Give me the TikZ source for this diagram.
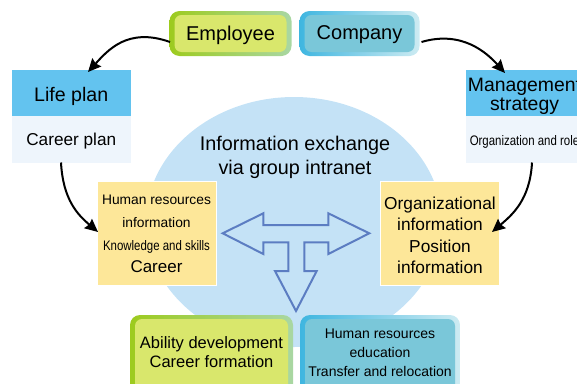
\documentclass[tikz,border=0pt]{standalone}
\usepackage{fontspec}
\setmainfont{Liberation Sans}
\usetikzlibrary{arrows.meta,calc}
\definecolor{empfill}{HTML}{D9E76C}
\definecolor{empL}{HTML}{9DCB1E}
\definecolor{empR}{HTML}{A9D7A3}
\definecolor{compfill}{HTML}{7AC7D9}
\definecolor{compL}{HTML}{3FB6E0}
\definecolor{compR}{HTML}{CDEBF2}
\definecolor{headblue}{HTML}{63C3EF}
\definecolor{pane}{HTML}{EEF5FC}
\definecolor{ellblue}{HTML}{C4E2F6}
\definecolor{yellowc}{HTML}{FDE799}
\definecolor{tblue}{HTML}{5C7DC2}
\tikzset{
  boxbase/.style={inner sep=0pt, outer sep=0pt},
  greenrim/.style={boxbase, rounded corners=10pt, left color=empL, right color=empR},
  bluerim/.style={boxbase, rounded corners=10pt, left color=compL, right color=compR},
  greenin/.style={boxbase, rounded corners=7pt, fill=empfill, align=center},
  bluein/.style={boxbase, rounded corners=7pt, fill=compfill, align=center},
  headbox/.style={boxbase, fill=headblue, anchor=north west, align=center},
  panebox/.style={boxbase, fill=pane, anchor=north west, align=center},
  yelbox/.style={boxbase, fill=yellowc, draw=white, line width=1pt, anchor=north west},
  txt/.style={inner sep=0pt, align=center},
  conn/.style={line width=2pt, -{Stealth[length=13pt,width=12pt,inset=1.5pt]}},
}
\begin{document}
\begin{tikzpicture}[x=1pt,y=-1pt]
\useasboundingbox (0,0) rectangle (577,383);
\clip (0,0) rectangle (577,383);
% central ellipse
\fill[ellblue] (294,222) ellipse [x radius=148, y radius=125];
\node[txt, font=\fontsize{19.8}{24}\selectfont] (info) at (295,157) {Information exchange\\via group intranet};

% Employee / Company
\node[greenrim, minimum width=122pt, minimum height=45pt, anchor=north west] (empout) at (169.5,11) {};
\node[greenin, minimum width=112pt, minimum height=37pt] (emp) at (empout.center) {};
\node[txt, font=\fontsize{20}{22}\selectfont] (emptext) at ($(emp.center)+(0,1.5)$) {Employee};
\node[bluerim, minimum width=120pt, minimum height=45pt, anchor=north west] (compout) at (299.5,11) {};
\node[bluein, minimum width=110pt, minimum height=37pt] (comp) at (compout.center) {};
\node[txt, font=\fontsize{20}{22}\selectfont] (comptext) at ($(comp.center)+(0,1.5)$) {Company};

% Life plan
\node[headbox, minimum width=119.5pt, minimum height=46pt] (life) at (11.5,70) {};
\node[txt, font=\fontsize{19.6}{22}\selectfont] (lifetext) at ($(life.center)+(0,3)$) {Life plan};
\node[panebox, minimum width=119.5pt, minimum height=46.5pt] (career) at (11.5,116) {};
\node[txt, font=\fontsize{17.2}{20}\selectfont] (careertext) at ($(career.center)+(0,2)$) {Career plan};

% Management strategy
\node[headbox, minimum width=117pt, minimum height=46pt] (mgmt) at (466,70) {};
\node[txt, font=\fontsize{19.4}{18.7}\selectfont] (mgmttext) at ($(mgmt.center)+(0,3)$) {Management\\strategy};
\node[panebox, minimum width=117pt, minimum height=46.5pt] (org) at (466,116) {};
\node[txt, font=\fontsize{13.8}{16}\selectfont] (orgroletext) at ($(org.center)+(0,3)$) {\scalebox{0.83}[1]{Organization and role}};

% yellow boxes
\node[yelbox, minimum width=119pt, minimum height=104pt] (hrbox) at (97,181) {};
\node[txt, font=\fontsize{13.8}{22.7}\selectfont] (hrtext) at (156.5,234) {Human resources\\information\\\scalebox{0.83}[1]{Knowledge and skills}\\{\fontsize{17}{22.7}\selectfont Career}};
\node[yelbox, minimum width=119pt, minimum height=104pt] (orgbox) at (380,181) {};
\node[txt, font=\fontsize{17.3}{21.5}\selectfont] (orgtext) at (440,235.5) {Organizational\\information\\Position\\information};

% T arrow
\draw[tblue, line width=2pt, line join=miter]
  (222.7,233.3) -- (263.3,213.3) -- (263.3,225) -- (328.3,225) -- (328.3,213.3)
  -- (369.3,233.3) -- (328.3,254) -- (328.3,242.3) -- (304.3,242.3) -- (304.3,271)
  -- (316.7,271) -- (296,311) -- (275,271) -- (288.3,271) -- (288.3,242.3)
  -- (263.3,242.3) -- (263.3,254) -- cycle;

% bottom boxes
\node[greenrim, minimum width=163pt, minimum height=80pt, anchor=north west] (abilout) at (130,315) {};
\node[greenin, minimum width=153pt, minimum height=72pt, anchor=north west] (abil) at (135,319) {};
\node[txt, font=\fontsize{16.5}{19.5}\selectfont] (abiltext) at (211.5,352) {Ability development\\Career formation};
\node[bluerim, minimum width=160pt, minimum height=80pt, anchor=north west] (hredout) at (300,315) {};
\node[bluein, minimum width=150pt, minimum height=72pt, anchor=north west] (hred) at (305,319) {};
\node[txt, font=\fontsize{14}{19.2}\selectfont] (hredtext) at (380,352.5) {Human resources\\education\\Transfer and relocation};

% connectors
\coordinate (s1) at ($(empout.west)+(0.5,8.5)$);
\coordinate (e1) at ($(life.north west)+(76.5,2)$);
\draw[conn] (s1) .. controls (128,27) and (108,50) .. (e1);
\coordinate (s2) at ($(compout.east)+(2,8.5)$);
\coordinate (e2) at ($(mgmt.north west)+(39,3)$);
\draw[conn] (s2) .. controls (462,30) and (487,53) .. (e2);
\coordinate (s3) at ($(career.south west)+(49.5,0)$);
\coordinate (e3) at ($(hrbox.north west)+(1,51)$);
\draw[conn] (s3) .. controls (63,200) and (78,215) .. (e3);
\coordinate (s4) at ($(org.south west)+(66,0)$);
\coordinate (e4) at ($(orgbox.north west)+(112,51)$);
\draw[conn] (s4) .. controls (530,200) and (512,215) .. (e4);
\end{tikzpicture}
\end{document}
